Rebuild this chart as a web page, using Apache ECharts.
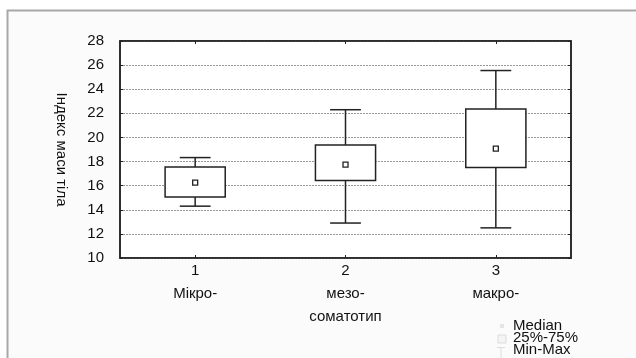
<!DOCTYPE html>
<html>
<head>
<meta charset="utf-8">
<script src="https://cdn.jsdelivr.net/npm/echarts@6/dist/echarts.min.js"></script>
<style>html,body{margin:0;padding:0;background:#fff}#c{width:636px;height:358px}</style>
</head>
<body>
<div id="c"></div>
<script>
var categories = ['1', '2', '3'];
var subLabels = ['Мікро-', 'мезо-\nсоматотип', 'макро-'];
var whiskerMin = [14.3, 12.9, 12.5];
var q1 = [15.05, 16.42, 17.5];
var median = [16.25, 17.75, 19.08];
var q3 = [17.55, 19.38, 22.35];
var whiskerMax = [18.33, 22.3, 25.55];
var yTicks = { min: 10, max: 28, interval: 2 };
var yTitle = 'Індекс маси тіла';
var legendItems = ['Median', '25%-75%', 'Min-Max'];

var data = categories.map(function (c, i) {
  return [i, whiskerMin[i], q1[i], median[i], q3[i], whiskerMax[i]];
});

var font = 'Liberation Sans, Arial, sans-serif';
var fs = 15;
var dark = '#222';

var chart = echarts.init(document.getElementById('c'), null, { renderer: 'canvas' });

function renderItem(params, api) {
  var idx = api.value(0);
  var pMin = api.coord([idx, api.value(1)]);
  var pQ1 = api.coord([idx, api.value(2)]);
  var pMed = api.coord([idx, api.value(3)]);
  var pQ3 = api.coord([idx, api.value(4)]);
  var pMax = api.coord([idx, api.value(5)]);
  var bw = api.size([1, 0])[0] * 0.4;
  var cw = api.size([1, 0])[0] * 0.205;
  var x = pMed[0];
  var st = { stroke: dark, lineWidth: 1.5, fill: null };
  return {
    type: 'group',
    children: [
      { type: 'line', shape: { x1: x, y1: pMax[1], x2: x, y2: pQ3[1] }, style: st },
      { type: 'line', shape: { x1: x, y1: pQ1[1], x2: x, y2: pMin[1] }, style: st },
      { type: 'line', shape: { x1: x - cw / 2, y1: pMax[1], x2: x + cw / 2, y2: pMax[1] }, style: st },
      { type: 'line', shape: { x1: x - cw / 2, y1: pMin[1], x2: x + cw / 2, y2: pMin[1] }, style: st },
      { type: 'rect', shape: { x: x - bw / 2, y: pQ3[1], width: bw, height: pQ1[1] - pQ3[1] }, style: { stroke: dark, lineWidth: 1.5, fill: '#fff' } },
      { type: 'rect', shape: { x: x - 2.5, y: pMed[1] - 2.5, width: 5, height: 5 }, style: { stroke: dark, lineWidth: 1.3, fill: '#fff' } }
    ]
  };
}

function legendText(i, y) {
  return { type: 'text', z: 10, style: { x: 513, y: y, text: legendItems[i], font: fs + 'px ' + font, fill: '#111', verticalAlign: 'middle', align: 'left' } };
}

var option = {
  backgroundColor: '#fff',
  animation: false,
  textStyle: { fontFamily: font },
  grid: {
    left: 120, right: 65, top: 41, bottom: 100,
    show: true, backgroundColor: '#fff', borderColor: dark, borderWidth: 1.5
  },
  graphic: [
    { type: 'rect', z: -10, shape: { x: 7.5, y: 10.5, width: 700, height: 400 },
      style: { fill: '#fbfbfb', stroke: '#a8a8a8', lineWidth: 2 } },
    legendText(0, 326),
    legendText(1, 338),
    legendText(2, 350),
    { type: 'rect', z: 10, shape: { x: 500, y: 324, width: 4, height: 4 }, style: { fill: '#e4e4e4' } },
    { type: 'rect', z: 10, shape: { x: 498, y: 335, width: 8, height: 8 }, style: { fill: '#f4f4f4', stroke: '#dcdcdc', lineWidth: 1 } },
    { type: 'line', z: 10, shape: { x1: 497, y1: 347.5, x2: 505, y2: 347.5 }, style: { stroke: '#dcdcdc', lineWidth: 1 } },
    { type: 'line', z: 10, shape: { x1: 501, y1: 347, x2: 501, y2: 358 }, style: { stroke: '#dcdcdc', lineWidth: 1 } }
  ],
  xAxis: [{
    type: 'category',
    data: categories,
    position: 'bottom',
    axisLine: { show: true, lineStyle: { color: dark, width: 1.5 } },
    axisTick: { show: true, inside: true, length: 3, alignWithLabel: true, lineStyle: { color: dark } },
    axisLabel: {
      margin: 2,
      formatter: function (v, i) {
        var lines = subLabels[i].split('\n');
        return '{a|' + v + '}\n' + lines.map(function (l) { return '{b|' + l + '}'; }).join('\n');
      },
      rich: {
        a: { fontSize: fs, lineHeight: 22, color: '#111', fontFamily: font },
        b: { fontSize: fs, lineHeight: 23, color: '#111', fontFamily: font }
      }
    },
    splitLine: { show: false }
  }, {
    type: 'category',
    data: categories,
    position: 'top',
    axisLine: { show: true, lineStyle: { color: dark, width: 1.5 } },
    axisTick: { show: true, inside: true, length: 3, alignWithLabel: true, lineStyle: { color: dark } },
    axisLabel: { show: false }
  }],
  yAxis: [{
    type: 'value',
    min: yTicks.min, max: yTicks.max, interval: yTicks.interval,
    name: yTitle,
    nameLocation: 'middle',
    nameGap: 51,
    nameRotate: -90,
    nameTextStyle: { fontSize: fs, color: '#111', fontFamily: font },
    axisLine: { show: true, lineStyle: { color: dark, width: 1.5 } },
    axisTick: { show: true, inside: true, length: 3, lineStyle: { color: dark } },
    axisLabel: { fontSize: fs, color: '#111', margin: 16, fontFamily: font },
    splitLine: { show: true, lineStyle: { color: '#999', type: [2, 1], width: 1.2 } }
  }, {
    type: 'value',
    position: 'right',
    min: yTicks.min, max: yTicks.max, interval: yTicks.interval,
    axisLine: { show: true, lineStyle: { color: dark, width: 1.5 } },
    axisTick: { show: true, inside: true, length: 3, lineStyle: { color: dark } },
    axisLabel: { show: false },
    splitLine: { show: false }
  }],
  series: [{
    type: 'custom',
    renderItem: renderItem,
    encode: { x: 0, y: [1, 2, 3, 4, 5] },
    data: data
  }]
};
chart.setOption(option);
</script>
</body>
</html>
